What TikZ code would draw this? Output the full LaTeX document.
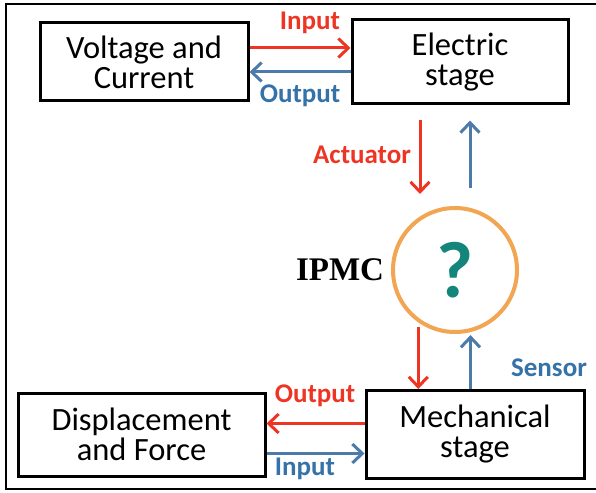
\documentclass[tikz,border=0pt]{standalone}
\usepackage{fontspec}
\setmainfont{Carlito}
\newfontfamily\serifbold{Liberation Serif}
\usetikzlibrary{arrows.meta}
\definecolor{myred}{HTML}{EE3524}
\definecolor{myblue}{HTML}{3572A8}
\definecolor{arrblue}{HTML}{4C7BAA}
\definecolor{myorange}{HTML}{F2A552}
\definecolor{myteal}{HTML}{13857A}
\tikzset{
  stagebox/.style={draw=black, line width=3pt, inner sep=0pt, align=center,
    font=\fontsize{32.5}{30}\selectfont},
  redarr/.style={draw=myred, line width=3pt, -{Straight Barb[length=10pt,width=19pt,line width=3pt]}},
  bluearr/.style={draw=arrblue, line width=3pt, -{Straight Barb[length=10pt,width=19pt,line width=3pt]}},
  redlbl/.style={text=myred, font=\fontsize{27}{27}\selectfont\bfseries, inner sep=0pt},
  bluelbl/.style={text=myblue, font=\fontsize{27}{27}\selectfont\bfseries, inner sep=0pt},
}
\begin{document}
\begin{tikzpicture}[x=1pt,y=-1pt]
\useasboundingbox (0,0) rectangle (596,492);
% outer frame (right side lies outside the picture)
\draw[line width=2.5pt] (6,4) rectangle (605,489);
% boxes
\node[stagebox, minimum width=208pt, minimum height=78pt] (volt) at (144,62) {Voltage and\\Current};
\node[stagebox, minimum width=216pt, minimum height=84pt] (elec) at (460,62) {Electric\\stage};
\node[stagebox, minimum width=247pt, minimum height=83pt] (disp) at (141.5,434.5) {Displacement\\and Force};
\node[stagebox, minimum width=218pt, minimum height=88pt] (mech) at (475,434.5) {Mechanical\\stage};
% IPMC circle
\node[circle, draw=myorange, line width=4pt, minimum size=124pt, inner sep=0pt] (ipmc) at (455,270) {};
\node[text=myteal, font=\fontsize{80}{80}\selectfont\bfseries, inner sep=0pt] (qm) at (ipmc.center) {?};
\node[font=\fontsize{33}{33}\selectfont\serifbold\bfseries, inner sep=0pt] (ipmclbl) at (340,270) {IPMC};
% top arrows
\draw[redarr] ([yshift=14pt]volt.east) -- ([yshift=14pt]elec.west);
\draw[bluearr] ([yshift=-10pt]elec.west) -- ([yshift=-10pt]volt.east);
\node[redlbl] (lin) at (310,23) {Input};
\node[bluelbl] (lout) at (300,96) {Output};
% vertical arrows top
\coordinate (ax) at (420,0);
\coordinate (bx) at (470,0);
\draw[redarr, shorten <=14pt, shorten >=12pt] (elec.south -| ax) -- (ipmc.north -| ax);
\draw[bluearr, shorten <=18pt, shorten >=15pt] (ipmc.north -| bx) -- (elec.south -| bx);
\node[redlbl] (lact) at (362,155) {Actuator};
% vertical arrows bottom
\draw[redarr, shorten <=5pt] (ipmc.235) -- (ipmc.235 |- mech.north);
\draw[bluearr, shorten >=3pt] (ipmc.284 |- mech.north) -- (ipmc.284);
\node[bluelbl] (lsens) at (549,368) {Sensor};
% bottom arrows
\draw[redarr] ([yshift=11pt]mech.west) -- ([yshift=11pt]disp.east);
\draw[bluearr] ([yshift=-19pt]disp.east) -- ([yshift=-19pt]mech.west);
\node[redlbl] (lout2) at (315,396) {Output};
\node[bluelbl] (lin2) at (305,469) {Input};
\end{tikzpicture}
\end{document}
